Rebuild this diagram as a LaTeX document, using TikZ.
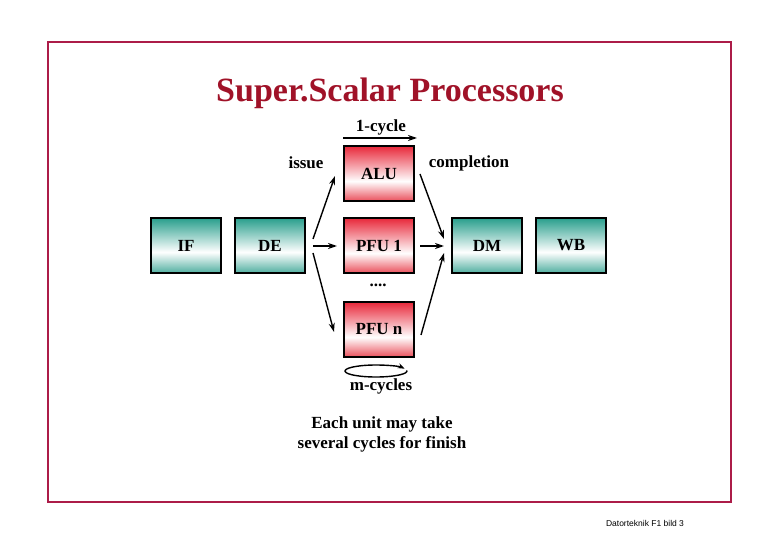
\documentclass[tikz,border=0pt]{standalone}
\usepackage{fontspec}
\setmainfont{Liberation Serif}
\setsansfont{Liberation Sans}
\usetikzlibrary{arrows.meta}
\definecolor{tealc}{RGB}{40,158,140}
\definecolor{tealb}{RGB}{80,175,160}
\definecolor{redc}{RGB}{232,40,58}
\definecolor{redb}{RGB}{234,80,92}
\definecolor{framec}{RGB}{172,28,72}
\definecolor{titlec}{RGB}{160,18,40}
\pgfdeclareverticalshading{tealsh}{100bp}{color(0bp)=(tealb); color(25bp)=(tealb); color(44bp)=(white); color(75bp)=(tealc); color(100bp)=(tealc)}
\pgfdeclareverticalshading{redsh}{100bp}{color(0bp)=(redb); color(25bp)=(redb); color(43bp)=(white); color(75bp)=(redc); color(100bp)=(redc)}
\tikzset{
  unit/.style={draw=black, line width=1.6pt, minimum width=70pt, minimum height=55pt, inner sep=0pt, font=\fontsize{17}{20}\selectfont\bfseries},
  tunit/.style={unit, shading=tealsh},
  runit/.style={unit, shading=redsh},
  lbl/.style={font=\fontsize{17}{20}\selectfont\bfseries, inner sep=0pt},
  arr/.style={line width=1.4pt, -{Stealth[length=9pt,width=6pt]}}
}
\begin{document}
\begin{tikzpicture}[x=1pt,y=-1pt]
\useasboundingbox (0,0) rectangle (780,540);
\draw[framec, line width=1.8pt] (48,42) rectangle (731,502);
\node[titlec, font=\fontsize{34}{40}\selectfont\bfseries, inner sep=0pt] (title) at (390,93) {Super.Scalar Processors};

\node[tunit] (IF) at (186,245.5) {IF};
\node[tunit] (DE) at (270,245.5) {DE};
\node[runit] (ALU) at (379,173.5) {ALU};
\node[runit] (PFU1) at (379,245.5) {PFU 1};
\node[runit] (PFUn) at (379,329.5) {PFU n};
\node[tunit] (DM) at (487,245.5) {DM};
\node[tunit] (WB) at (571,245.5) {WB};

\node[lbl] (cyc) at (381,127) {1-cycle};
\coordinate (c1) at (343,138);
\coordinate (c2) at (417,138);
\draw[arr] (c1) -- (c2);

\node[lbl] (issue) at (306,163) {issue};
\node[lbl] (compl) at (469,163) {completion};
\node[lbl] (dots) at (378,285) {....};
\node[lbl] (mcyc) at (381,386) {m-cycles};

\coordinate (d1) at (313,239);
\coordinate (d2) at (313,246);
\coordinate (d3) at (313,253);
\coordinate (m1) at (444,239);
\coordinate (m2) at (444,246);
\coordinate (m3) at (444,253);
\coordinate (a1) at (335,176);
\coordinate (p1) at (337,246);
\coordinate (n1) at (334,332);
\coordinate (ao) at (420,174);
\coordinate (po) at (420,246);
\coordinate (no) at (421,335);
\draw[arr] (d1) -- (a1);
\draw[arr] (d2) -- (p1);
\draw[arr] (d3) -- (n1);
\draw[arr] (ao) -- (m1);
\draw[arr] (po) -- (m2);
\draw[arr] (no) -- (m3);

% ellipse centre (376,371), radii 31 x 6; start at angle -5
\coordinate (es) at (406.88,370.48);
\draw[line width=1.4pt, -{Stealth[length=7pt,width=5pt]}] (es) arc[start angle=-365, end angle=-22, x radius=31, y radius=6];

\node[lbl, align=center] (note) at (382,434) {Each unit may take\\several cycles for finish};
\node[font=\sffamily\fontsize{8.5}{10}\selectfont, inner sep=0pt] (foot) at (645,523) {Datorteknik F1 bild 3};
\end{tikzpicture}
\end{document}
